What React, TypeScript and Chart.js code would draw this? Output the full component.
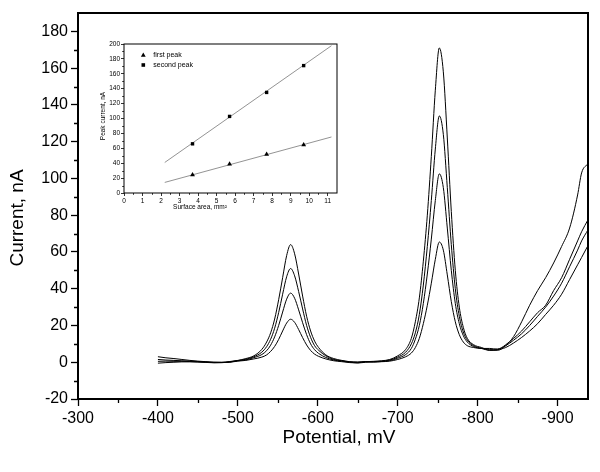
import React, { useEffect, useRef } from 'react';
import { Chart, registerables } from 'chart.js';

Chart.register(...registerables);

const FONT = "'Liberation Sans', Arial, Helvetica, sans-serif";

// ---------- main chart data ----------
const potentials = [
  -400, -410, -420, -430, -440, -450, -460, -470, -480, -490, -500, -510, -520, -530,
  -536, -541, -546, -551, -556, -561, -566, -571, -576, -581, -586, -591, -596, -601,
  -610, -620, -630, -640, -650, -660, -670, -680, -690, -700, -710,
  -717, -722, -727, -732, -737, -742, -747, -752, -757, -762, -767, -772, -777, -782, -787,
  -795, -805, -815, -825, -835, -845, -855, -865, -875, -885, -895, -905, -915, -925,
  -930, -938,
];

const curveA = [
  3.0, 2.4, 2.0, 1.5, 1.0, 0.6, 0.3, 0.0, 0.0, 0.4, 1.0, 2.0, 3.5, 7.0,
  11, 16, 23.5, 34, 46, 58, 64, 59, 48, 36, 25, 17, 11.5, 8,
  4, 2, 1, 0.3, 0.1, 0.3, 0.5, 0.8, 1.5, 3.5, 7,
  13, 22, 35, 55, 80, 112, 148, 171, 158, 122, 82, 50, 30, 19, 13,
  9.5, 8, 6.5, 6.5, 9, 14, 22, 31, 39, 46, 54, 63, 73, 91,
  103, 108,
];

const curveB = [
  1.5, 1.2, 1.0, 0.8, 0.6, 0.4, 0.2, 0.0, -0.1, 0.2, 0.9, 1.6, 3.0, 5.5,
  8.5, 12.5, 18.5, 27, 37, 46.5, 51, 47, 38.5, 29, 20, 13.5, 9, 6.5,
  3.5, 1.5, 0.8, 0.2, 0.0, 0.4, 0.3, 0.6, 1.2, 2.8, 5.5,
  10, 16, 26, 42, 63, 88, 116, 134, 124, 95, 64, 40, 25, 16.5, 12,
  9, 7.5, 6.5, 6.8, 9.5, 13, 17, 22, 27, 31, 39, 46, 56, 66,
  71, 77.5,
];

const curveC = [
  0.5, 0.6, 0.5, 0.5, 0.4, 0.2, 0.0, -0.2, -0.2, 0.1, 0.8, 1.3, 2.5, 4.2,
  6.3, 9.3, 13.8, 20, 27.3, 34.3, 37.6, 34.8, 28.5, 21.5, 15, 10, 6.8, 4.8,
  2.6, 1.2, 0.6, 0.0, -0.3, 0.2, 0.1, 0.4, 0.9, 2.2, 4.2,
  7.5, 12.5, 20, 32, 48, 67, 88, 102.5, 95, 73, 50, 32, 21, 14.5, 11,
  8.5, 7.5, 7, 7.2, 9, 12, 15.5, 20, 25, 30, 36, 43, 52, 61,
  66, 72,
];

const curveD = [
  -0.5, -0.2, 0.0, 0.2, 0.2, 0.1, -0.1, -0.3, -0.2, 0.0, 0.6, 1.0, 1.8, 2.8,
  4.0, 5.9, 8.6, 12.4, 17, 21.3, 23.4, 21.7, 17.8, 13.4, 9.4, 6.4, 4.4, 3.2,
  1.8, 0.8, 0.3, -0.2, -0.4, 0.0, 0.2, 0.3, 0.6, 1.5, 3,
  5, 8, 13, 21, 31, 43, 56, 65.4, 61, 47.5, 33, 22, 15, 11, 9,
  8, 7.5, 7.5, 7, 8, 10.5, 13.5, 17, 21, 26, 31, 37, 45, 53,
  57, 63.5,
];

const xTicks = [-300, -400, -500, -600, -700, -800, -900];
const xMinorTicks = [-350, -450, -550, -650, -750, -850];
const yTicks = [-20, 0, 20, 40, 60, 80, 100, 120, 140, 160, 180];
const yMinorTicks = [-10, 10, 30, 50, 70, 90, 110, 130, 150, 170];

// ---------- inset data ----------
const surfaceArea = [3.7, 5.7, 7.7, 9.7];
const firstPeak = [24.5, 38.9, 51.8, 64.6];
const secondPeak = [66, 102.8, 135, 171];
const fitArea = [2.2, 11.2];
const firstFit = [14.2, 75.2];
const secondFit = [41, 197.7];
const insetXTicks = [0, 1, 2, 3, 4, 5, 6, 7, 8, 9, 10, 11];
const insetXMinor = [0.5, 1.5, 2.5, 3.5, 4.5, 5.5, 6.5, 7.5, 8.5, 9.5, 10.5];
const insetYTicks = [0, 20, 40, 60, 80, 100, 120, 140, 160, 180, 200];
const insetYMinor = [10, 30, 50, 70, 90, 110, 130, 150, 170, 190];

const toPoints = (xs: number[], ys: number[]) => xs.map((x, i) => ({ x, y: ys[i] }));

type Deco = {
  frameWidth: number;
  tickWidth: number;
  minorLen: number;
  xMinor: number[];
  yMinor: number[];
  texts: { text: string; x: number; y: number; size: number; rotate?: boolean }[];
  legend?: { style: 'triangle' | 'rect'; label: string; x: number; y: number; size: number }[];
};

const decoPlugin = (d: Deco) => ({
  id: 'deco',
  afterDraw(chart: any) {
    const { ctx, chartArea: a, scales } = chart;
    ctx.save();
    ctx.strokeStyle = '#000';
    ctx.fillStyle = '#000';
    ctx.lineWidth = d.tickWidth;
    ctx.beginPath();
    d.xMinor.forEach((v) => {
      const x = Math.round(scales.x.getPixelForValue(v)) + 0.5;
      ctx.moveTo(x, a.bottom);
      ctx.lineTo(x, a.bottom + d.minorLen);
    });
    d.yMinor.forEach((v) => {
      const y = Math.round(scales.y.getPixelForValue(v)) + 0.5;
      ctx.moveTo(a.left, y);
      ctx.lineTo(a.left - d.minorLen, y);
    });
    ctx.stroke();
    ctx.lineWidth = d.frameWidth;
    ctx.strokeRect(a.left, a.top, a.right - a.left, a.bottom - a.top);
    ctx.textAlign = 'center';
    ctx.textBaseline = 'middle';
    d.texts.forEach((t) => {
      ctx.save();
      ctx.font = `${t.size}px ${FONT}`;
      ctx.translate(t.x, t.y);
      if (t.rotate) ctx.rotate(-Math.PI / 2);
      ctx.fillText(t.text, 0, 0);
      ctx.restore();
    });
    (d.legend || []).forEach((l) => {
      ctx.beginPath();
      if (l.style === 'triangle') {
        ctx.moveTo(l.x, l.y - 2.6);
        ctx.lineTo(l.x + 2.4, l.y + 1.8);
        ctx.lineTo(l.x - 2.4, l.y + 1.8);
        ctx.closePath();
      } else {
        ctx.rect(l.x - 1.8, l.y - 1.8, 3.6, 3.6);
      }
      ctx.fill();
      ctx.font = `${l.size}px ${FONT}`;
      ctx.textAlign = 'left';
      ctx.fillText(l.label, l.x + 10, l.y);
    });
    ctx.restore();
  },
});

export default function App() {
  const mainRef = useRef<HTMLCanvasElement>(null);
  const insetRef = useRef<HTMLCanvasElement>(null);

  useEffect(() => {
    const lineDs = (ys: number[]) => ({
      data: toPoints(potentials, ys),
      borderColor: '#000',
      borderWidth: 1,
      pointRadius: 0,
      fill: false,
      cubicInterpolationMode: 'monotone' as const,
    });

    const main = new Chart(mainRef.current!, {
      type: 'line',
      data: { datasets: [lineDs(curveA), lineDs(curveB), lineDs(curveC), lineDs(curveD)] },
      options: {
        animation: false,
        responsive: false,
        devicePixelRatio: 1,
        layout: { padding: { left: 0, right: 12, top: 13, bottom: 0 } },
        plugins: { legend: { display: false }, tooltip: { enabled: false } },
        scales: {
          x: {
            type: 'linear',
            reverse: true,
            min: -938,
            max: -300,
            afterBuildTicks: (s: any) => { s.ticks = xTicks.map((value) => ({ value })); },
            afterFit: (s: any) => { s.height = 73; },
            ticks: { color: '#000', font: { size: 16, family: FONT }, padding: 3, maxRotation: 0, autoSkip: false },
            grid: { drawOnChartArea: false, drawTicks: true, tickLength: 7, tickColor: '#000', tickWidth: 1.3 },
            border: { display: false },
          },
          y: {
            type: 'linear',
            min: -20,
            max: 190,
            afterBuildTicks: (s: any) => { s.ticks = yTicks.map((value) => ({ value })); },
            afterFit: (s: any) => { s.width = 78; },
            ticks: { color: '#000', font: { size: 16, family: FONT }, padding: 3, autoSkip: false },
            grid: { drawOnChartArea: false, drawTicks: true, tickLength: 7, tickColor: '#000', tickWidth: 1.3 },
            border: { display: false },
          },
        },
      },
      plugins: [
        decoPlugin({
          frameWidth: 2,
          tickWidth: 1.3,
          minorLen: 4,
          xMinor: xMinorTicks,
          yMinor: yMinorTicks,
          texts: [
            { text: 'Current, nA', x: 18, y: 218, size: 19, rotate: true },
            { text: 'Potential, mV', x: 339, y: 438, size: 19 },
          ],
        }),
      ],
    } as any);

    const inset = new Chart(insetRef.current!, {
      type: 'scatter',
      data: {
        datasets: [
          {
            data: toPoints(surfaceArea, firstPeak),
            pointStyle: 'triangle',
            pointRadius: 2.8,
            backgroundColor: '#000',
            borderColor: '#000',
            borderWidth: 0,
          },
          {
            data: toPoints(surfaceArea, secondPeak),
            pointStyle: 'rect',
            pointRadius: 2.4,
            backgroundColor: '#000',
            borderColor: '#000',
            borderWidth: 0,
          },
          {
            data: toPoints(fitArea, firstFit),
            showLine: true,
            borderColor: '#777',
            borderWidth: 0.8,
            pointRadius: 0,
          },
          {
            data: toPoints(fitArea, secondFit),
            showLine: true,
            borderColor: '#777',
            borderWidth: 0.8,
            pointRadius: 0,
          },
        ],
      },
      options: {
        animation: false,
        responsive: false,
        devicePixelRatio: 1,
        layout: { padding: { left: 0, right: 13, top: 14, bottom: 0 } },
        plugins: { legend: { display: false }, tooltip: { enabled: false } },
        scales: {
          x: {
            type: 'linear',
            min: 0,
            max: 11.5,
            afterBuildTicks: (s: any) => { s.ticks = insetXTicks.map((value) => ({ value })); },
            afterFit: (s: any) => { s.height = 27; },
            ticks: { color: '#000', font: { size: 6.5, family: FONT }, padding: 1, maxRotation: 0, autoSkip: false },
            grid: { drawOnChartArea: false, drawTicks: true, tickLength: 3, tickColor: '#000', tickWidth: 0.8 },
            border: { display: false },
          },
          y: {
            type: 'linear',
            min: 0,
            max: 200,
            afterBuildTicks: (s: any) => { s.ticks = insetYTicks.map((value) => ({ value })); },
            afterFit: (s: any) => { s.width = 34; },
            ticks: { color: '#000', font: { size: 6.5, family: FONT }, padding: 1, autoSkip: false },
            grid: { drawOnChartArea: false, drawTicks: true, tickLength: 3, tickColor: '#000', tickWidth: 0.8 },
            border: { display: false },
          },
        },
      },
      plugins: [
        decoPlugin({
          frameWidth: 1,
          tickWidth: 0.8,
          minorLen: 1.8,
          xMinor: insetXMinor,
          yMinor: insetYMinor,
          texts: [
            { text: 'Peak current, nA', x: 13.5, y: 86, size: 6.5, rotate: true },
            { text: 'Surface area, mm²', x: 110, y: 177, size: 6.5 },
          ],
          legend: [
            { style: 'triangle', label: 'first peak', x: 53.3, y: 25, size: 7 },
            { style: 'rect', label: 'second peak', x: 53.3, y: 35, size: 7 },
          ],
        }),
      ],
    } as any);

    return () => {
      main.destroy();
      inset.destroy();
    };
  }, []);

  return (
    <div style={{ position: 'absolute', left: 0, top: 0, width: 600, height: 472, background: '#fff' }}>
      <canvas ref={mainRef} width={600} height={472} style={{ position: 'absolute', left: 0, top: 0, width: 600, height: 472 }} />
      <canvas ref={insetRef} width={260} height={190} style={{ position: 'absolute', left: 90, top: 30, width: 260, height: 190 }} />
    </div>
  );
}
